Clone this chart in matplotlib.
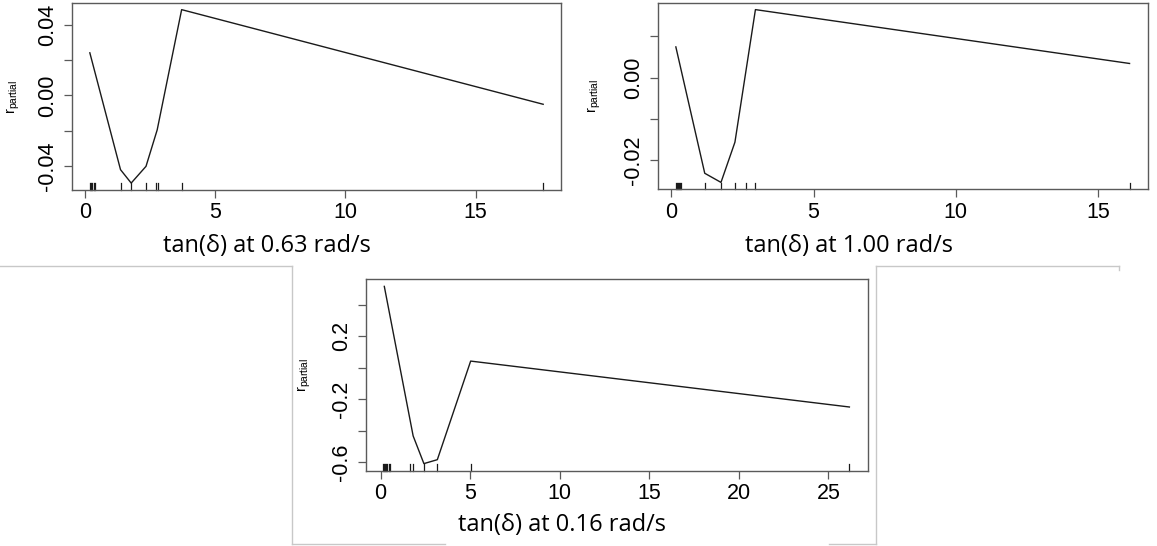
import matplotlib
matplotlib.use("Agg")
import matplotlib.pyplot as plt
from matplotlib.lines import Line2D

# partial dependence of r on tan(delta), three frequencies
x_063 = [0.17, 1.35, 1.76, 2.33, 2.76, 3.70, 17.6]
y_063 = [0.0242, -0.0421, -0.0497, -0.0402, -0.0195, 0.0487, -0.0050]
rug_063 = [0.19, 0.23, 0.27, 0.32, 0.37, 1.35, 1.76, 2.33, 2.72, 2.78, 3.70, 17.6]

x_100 = [0.165, 1.18, 1.75, 2.24, 2.96, 16.1]
y_100 = [0.0074, -0.0231, -0.0253, -0.0156, 0.0164, 0.0034]
rug_100 = [0.16, 0.20, 0.23, 0.27, 0.31, 0.36, 1.18, 1.75, 2.24, 2.63, 2.96, 16.1]

x_016 = [0.21, 1.82, 2.42, 3.17, 5.03, 26.17]
y_016 = [0.518, -0.433, -0.609, -0.584, 0.043, -0.249]
rug_016 = [0.15, 0.20, 0.25, 0.30, 0.37, 0.45, 0.52, 1.64, 1.82, 2.42, 3.17, 5.03, 26.17]

xlabels = ["tan(δ) at 0.63 rad/s", "tan(δ) at 1.00 rad/s", "tan(δ) at 0.16 rad/s"]

yticks_063 = [-0.04, -0.02, 0.0, 0.02, 0.04]
ylabs_063 = ["-0.04", "", "0.00", "", "0.04"]
yticks_100 = [-0.02, -0.01, 0.0, 0.01]
ylabs_100 = ["-0.02", "", "0.00", ""]
yticks_016 = [-0.6, -0.4, -0.2, 0.0, 0.2, 0.4]
ylabs_016 = ["-0.6", "", "-0.2", "", "0.2", ""]

W, H = 1157, 546
fig = plt.figure(figsize=(W / 100, H / 100), dpi=100)

frame = "#5a5a5a"


def pix_axes(left, top, right, bottom):
    return fig.add_axes([left / W, 1 - bottom / H, (right - left) / W, (bottom - top) / H])


def panel(ax, xs, ys, rug, xticks, yticks, ylabs):
    ax.plot(xs, ys, color="#1a1a1a", lw=1.0)
    # rug along the bottom, inside the box
    for r in rug:
        ax.plot([r, r], [0, 0.035], color="#1a1a1a", lw=0.9,
                transform=ax.get_xaxis_transform(), clip_on=False)
    # R style 4% padding
    xr = max(xs) - min(xs)
    yr = max(ys) - min(ys)
    ax.set_xlim(min(xs) - 0.04 * xr, max(xs) + 0.04 * xr)
    ax.set_ylim(min(ys) - 0.04 * yr, max(ys) + 0.04 * yr)
    ax.set_xticks(xticks)
    ax.set_xticklabels([str(t) for t in xticks], fontsize=15.5, family="Liberation Sans")
    ax.set_yticks(yticks)
    ax.set_yticklabels(ylabs, fontsize=15.5, family="Liberation Sans", rotation=90, va="center")
    ax.tick_params(direction="out", length=5.8, width=0.9, color=frame, pad=3)
    ax.tick_params(axis="y", pad=4)
    for s in ax.spines.values():
        s.set_color(frame)
        s.set_linewidth(1.0)


ax1 = pix_axes(71.7, 2.7, 561.3, 190)
panel(ax1, x_063, y_063, rug_063, [0, 5, 10, 15], yticks_063, ylabs_063)
ax2 = pix_axes(657.7, 2.7, 1147.7, 189.3)
panel(ax2, x_100, y_100, rug_100, [0, 5, 10, 15], yticks_100, ylabs_100)
ax3 = pix_axes(365.7, 279.3, 868, 470.7)
panel(ax3, x_016, y_016, rug_016, [0, 5, 10, 15, 20, 25], yticks_016, ylabs_016)

# y axis labels
ylab = r"$\mathregular{r_{partial}}$"
for ax, xp in [(ax1, 13), (ax2, 594), (ax3, 304)]:
    pos = ax.get_position()
    fig.text(xp / W, pos.y0 + pos.height / 2, ylab, rotation=90, fontsize=10.5,
             family="Liberation Sans", ha="center", va="center")

# x axis labels, Calibri-like
for (xc, yc), lab in zip([(267, 246), (849, 246), (562, 525)], xlabels):
    fig.text(xc / W, 1 - yc / H, lab, fontsize=17, family=["Open Sans", "DejaVu Sans"],
             ha="center", va="center")

# light frame of the pasted lower image
grey = "#c8c8c8"
segs = [
    ((0, 266), (292, 266)),
    ((292, 266), (292, 544)),
    ((292, 544), (445, 544)),
    ((829, 544), (876, 544)),
    ((876, 266), (876, 544)),
    ((876, 266), (1119, 266)),
    ((1119, 266), (1119, 270)),
]
for (xa, ya), (xb, yb) in segs:
    fig.add_artist(Line2D([xa / W, xb / W], [1 - ya / H, 1 - yb / H], color=grey, lw=1.0,
                          transform=fig.transFigure))

fig.savefig("out.png", dpi=100)
